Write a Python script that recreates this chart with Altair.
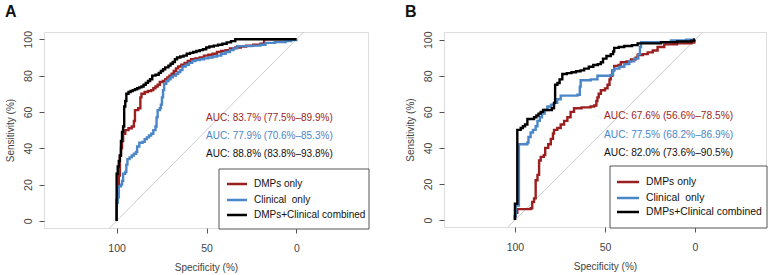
import altair as alt
import pandas as pd

FONT = "Liberation Sans"
RED = "#9b1f1f"
BLUE = "#4a86c8"
BLACK = "#000000"
BOX = "#555555"

series_names = ["DMPs only", "Clinical\u00a0 only", "DMPs+Clinical combined"]
series_colors = [RED, BLUE, BLACK]

# Panel A
a_red_spec = [100, 100, 99.4, 98.8, 98.2, 97.6, 97, 96.4, 95.2, 93.4, 91.6, 90.4, 89.8, 88, 86.8, 86.2, 84.4, 82.6, 80.8, 79.6, 78.4, 77.2, 76, 74.2, 73, 71.8, 70.6, 69.4, 68.2, 67, 65.8, 64, 62.2, 60.4, 58.6, 56.2, 53.8, 51.4, 49, 46.6, 44.2, 41.8, 39.4, 37, 34, 31, 28, 24, 20, 18, 0]
a_red_sens = [0, 12, 18, 25, 36, 40, 44, 48, 50, 51, 52, 55, 61, 62, 68, 70, 71, 71.5, 72, 73, 74, 75, 76.5, 77, 78, 79, 80, 81, 82.5, 84, 85, 86, 87, 88, 89, 89.5, 90, 91, 91.5, 92, 93, 93.5, 94, 95, 95.5, 96, 96.5, 97, 97.5, 100, 100]
a_blue_spec = [100, 100, 99.4, 98.8, 97.6, 97, 96.4, 95.2, 94.6, 94, 92.8, 91.6, 90.4, 89.2, 88.6, 87.4, 85.6, 84.4, 83.2, 82, 80.8, 79.6, 78.4, 77.8, 77.2, 76, 75.4, 74.8, 74.2, 73.6, 72.4, 71.2, 70, 68.8, 67, 65.8, 64.6, 63.4, 61.6, 59.8, 58, 56.2, 53.8, 51.4, 49, 46.6, 44.2, 41.8, 39.4, 37, 35, 33, 25, 20, 17.2, 12, 6, 3, 0]
a_blue_sens = [0, 10, 13, 19, 20, 22, 26, 27, 31, 34, 35, 36, 37, 38, 41, 43, 43.5, 45, 46, 47, 48, 50, 52, 57, 61, 62, 64, 68, 72, 75.5, 77, 78, 79, 80, 81, 82, 83, 85, 86, 87, 88, 88.5, 89, 89.5, 90, 90.5, 91, 92, 93, 94, 95, 96.2, 96.5, 97, 98, 98.5, 99, 99.5, 100]
a_black_spec = [100, 100, 99.4, 98.8, 98.2, 97.6, 97, 96.4, 95.8, 95.2, 94.6, 93.4, 92.2, 91, 89.8, 88.6, 87.4, 86.2, 85, 83.8, 82.6, 81.4, 80.2, 78.4, 76.6, 75.4, 74.2, 73, 71.2, 70, 68.8, 67.6, 66.4, 64.6, 62.8, 61, 59.2, 57.4, 55.6, 53.8, 52, 50.2, 48.4, 46, 43.6, 41.2, 38.8, 36.4, 34, 0]
a_black_sens = [0, 26, 30, 33, 36, 44, 49, 52, 63, 66, 70, 71, 71.5, 72, 72.5, 73, 73.5, 74, 75, 76, 77, 78, 80, 80.5, 81.5, 82.5, 83.5, 84.5, 85.5, 86.5, 87.5, 89, 90, 90.5, 91, 92, 92.5, 93, 93.5, 94, 94.5, 95.5, 96, 96.5, 97, 97.5, 98.3, 99, 100, 100]
a_auc = ["AUC: 83.7% (77.5%\u201389.9%)", "AUC: 77.9% (70.6%\u201385.3%)", "AUC: 88.8% (83.8%\u201393.8%)"]

# Panel B
b_red_spec = [100, 100, 99.6, 98.7, 95, 91.3, 90.4, 89.4, 88.5, 87.5, 86.6, 85.7, 84, 83.2, 81.5, 80.1, 78.9, 78.3, 76.5, 74.6, 72.7, 70.9, 69.1, 67.2, 63, 58, 56, 54.8, 54.2, 53.5, 52.3, 50, 48.6, 47.5, 46.8, 45.9, 44.9, 42.5, 41.2, 38, 35.6, 33, 31.9, 29, 26.3, 23.5, 20.8, 17.1, 10, 2, 0.4, 0]
b_red_sens = [0, 2, 4, 6, 6, 6.5, 10, 12, 22, 25, 33, 35, 36, 40, 42, 45, 48, 50, 51, 53, 55, 57, 60, 62, 62.5, 63, 63.5, 66, 68, 70, 72, 73, 75, 78, 80, 83, 85.5, 86, 87.5, 88, 89, 90, 91.5, 92, 93, 94, 96, 97.5, 98, 98.5, 100, 100]
b_blue_spec = [100, 100, 99.6, 97.8, 95, 93.1, 92.5, 91.3, 90, 88.5, 87.5, 86.2, 85, 83.5, 82, 80, 78.3, 76.5, 74.6, 70, 65.3, 64, 63.5, 60, 57.9, 54.2, 50, 46.8, 45.5, 44.9, 42, 39.3, 36.5, 33.8, 31.5, 30.6, 30, 20, 13.4, 5, 0]
b_blue_sens = [0, 2, 8, 42, 42, 43, 46, 48.5, 50, 52, 55, 57, 59, 61, 63, 64, 65, 67, 69, 69, 69.5, 74, 77.5, 77.5, 78, 80, 80, 80.5, 83, 84, 85, 86.5, 88, 89.5, 92, 96, 98.7, 98.7, 99.6, 100, 100]
b_black_spec = [100, 100, 99.6, 98.7, 97.4, 96.8, 95.6, 94.4, 93.1, 90.6, 89.4, 88.1, 86.9, 85.7, 84.4, 81.9, 79.5, 78.3, 77.7, 76.4, 75.2, 73.7, 71.2, 68.6, 66.1, 63.6, 61.6, 59, 56.5, 54, 52.3, 51.1, 49.2, 46.8, 45.5, 44.9, 42.4, 39.3, 35, 31.9, 25, 18.9, 10, 2, 0.4, 0]
b_black_sens = [0, 9, 9, 50, 50, 51, 52, 53, 56, 56, 57, 58, 59, 60, 61, 61, 62, 65, 75, 76, 78, 81, 81.5, 82, 82.5, 83, 84, 85, 86, 86.5, 87.5, 89.5, 91, 92, 93.5, 95.5, 96, 96.5, 97, 98, 98, 98.7, 99, 99.5, 100, 100]
b_auc = ["AUC: 67.6% (56.6%\u201378.5%)", "AUC: 77.5% (68.2%\u201386.9%)", "AUC: 82.0% (73.6%\u201390.5%)"]

diag_spec = [140, -40]
diag_sens = [-40, 140]

x_ticks = [100, 50, 0]
y_ticks = [0, 20, 40, 60, 80, 100]


def make_panel(letter, curves, aucs, width, height, xdom, ydom, lay):
    xs = alt.Scale(domain=xdom, reverse=True, nice=False, zero=False)
    ys = alt.Scale(domain=ydom, nice=False, zero=False)
    xax = alt.Axis(values=x_ticks, title="Specificity (%)", labelPadding=10,
                   titlePadding=9)
    yax = alt.Axis(values=y_ticks, title="Sensitivity (%)", labelPadding=6,
                   labelAngle=270, labelAlign="center", labelBaseline="bottom",
                   titlePadding=8)

    diag = alt.Chart(pd.DataFrame({"spec": diag_spec, "sens": diag_sens, "i": [0, 1]})).mark_line(
        color="#cccccc", strokeWidth=1, clip=True
    ).encode(x=alt.X("spec:Q", scale=xs, axis=xax), y=alt.Y("sens:Q", scale=ys, axis=yax),
             order="i:Q")

    layers = [diag]
    for (spec, sens), col in zip(curves, series_colors):
        df = pd.DataFrame({"spec": spec, "sens": sens, "i": list(range(len(spec)))})
        layers.append(
            alt.Chart(df).mark_line(color=col, strokeWidth=2.4, interpolate="step-after", clip=True)
            .encode(x=alt.X("spec:Q", scale=xs, axis=xax), y=alt.Y("sens:Q", scale=ys, axis=yax),
                    order="i:Q")
        )

    one = alt.Data(values=[{}])
    for k, (txt, col) in enumerate(zip(aucs, series_colors)):
        layers.append(
            alt.Chart(one).mark_text(text=txt, color=col if col != BLACK else "#111",
                                     font=FONT, fontSize=lay["auc_fs"], align="left",
                                     baseline="middle")
            .encode(x=alt.value(lay["auc_x"]), y=alt.value(lay["auc_y"][k]))
        )
    layers.append(
        alt.Chart(one).mark_rect(fill="white", stroke=BOX, strokeWidth=1)
        .encode(x=alt.value(lay["lg_x0"]), x2=alt.value(width + 1),
                y=alt.value(lay["lg_y0"]), y2=alt.value(height + 1))
    )
    for k, (name, col) in enumerate(zip(series_names, series_colors)):
        yy = lay["lg_rows"][k]
        layers.append(
            alt.Chart(one).mark_rule(color=col, strokeWidth=2.5)
            .encode(x=alt.value(lay["lg_l0"]), x2=alt.value(lay["lg_l1"]),
                    y=alt.value(yy))
        )
        layers.append(
            alt.Chart(one).mark_text(text=name, color="#111", font=FONT,
                                     fontSize=lay["lg_fs"], align="left", baseline="middle")
            .encode(x=alt.value(lay["lg_tx"]), y=alt.value(yy))
        )

    return alt.layer(*layers).properties(
        width=width, height=height,
        title=alt.TitleParams(letter, anchor="start", fontSize=16, fontWeight="bold",
                              font=FONT, color="#111", offset=11, dx=0),
    )


panelA = make_panel(
    "A",
    [(a_red_spec, a_red_sens), (a_blue_spec, a_blue_sens), (a_black_spec, a_black_sens)],
    a_auc, 324, 196, [-39.8, 140.4], [-3.9, 104],
    dict(auc_fs=10, auc_x=162, auc_y=[86, 104, 122], lg_x0=175, lg_y0=137,
         lg_l0=183, lg_l1=203, lg_tx=210, lg_rows=[152, 168, 183], lg_fs=10),
)
panelB = make_panel(
    "B",
    [(b_red_spec, b_red_sens), (b_blue_spec, b_blue_sens), (b_black_spec, b_black_sens)],
    b_auc, 322, 195, [-39.4, 139.4], [-3.9, 104.3],
    dict(auc_fs=10.2, auc_x=160, auc_y=[84, 103, 121], lg_x0=166, lg_y0=134,
         lg_l0=173, lg_l1=195, lg_tx=202, lg_rows=[150, 166, 180], lg_fs=10.4),
)

chart = alt.hconcat(panelA, panelB, spacing=34).properties(
    padding={"left": 4, "top": 3, "right": 0, "bottom": 0}
).configure_view(stroke=BOX, strokeWidth=1).configure(background="white").configure_axis(
    domain=False, grid=False, tickSize=5, tickColor=BOX, labelFontSize=10.5,
    labelColor="#444", titleFontSize=10, titleFontWeight="normal", titleColor="#444",
    labelFont=FONT, titleFont=FONT, labelOverlap=False, labelFlush=False
)

chart.save("out.html", embed_options={"renderer": "svg", "actions": False})
